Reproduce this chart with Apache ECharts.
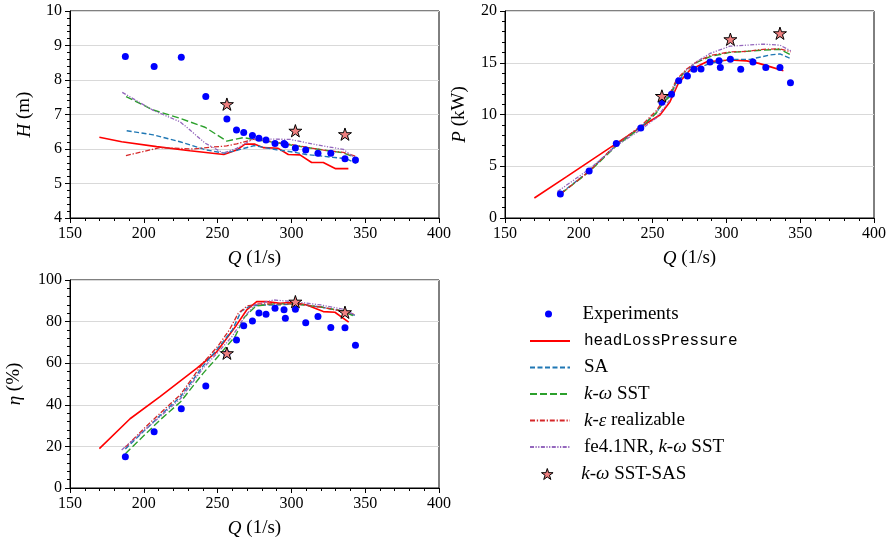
<!DOCTYPE html>
<html>
<head>
<meta charset="utf-8">
<script src="https://cdn.jsdelivr.net/npm/echarts@6/dist/echarts.min.js"></script>
<style>html,body{margin:0;padding:0;background:#fff;}#c{width:892px;height:541px;}</style>
</head>
<body>
<div id="c"></div>
<script>
// ---------- Data ----------
const expQ   = [187.5, 207.0, 225.4, 242.0, 256.3, 262.8, 267.7, 273.6, 278.0, 282.8, 288.9, 295.0, 295.9, 302.7, 309.7, 318.0, 326.7, 336.3, 343.4];
const expH   = [8.68, 8.39, 8.66, 7.52, 6.87, 6.55, 6.48, 6.39, 6.31, 6.26, 6.16, 6.16, 6.12, 6.03, 5.97, 5.88, 5.88, 5.72, 5.68];
const expP   = [2.32, 4.54, 7.21, 8.70, 11.18, 11.95, 13.27, 13.72, 14.36, 14.40, 15.07, 15.20, 14.53, 15.33, 14.36, 15.07, 14.53, 14.53, 13.07];
const expEta = [15.0, 27.1, 38.1, 49.0, 64.5, 71.2, 78.0, 80.3, 84.1, 83.5, 86.4, 85.7, 81.6, 85.9, 79.5, 82.4, 77.2, 77.1, 68.6];

const sasQ   = [256.3, 302.7, 336.3];
const sasH   = [7.30, 6.53, 6.43];
const sasP   = [11.79, 17.27, 17.85];
const sasEta = [64.8, 89.6, 84.5];

// Head H (m)
const hlpH_Q = [169.9, 185, 208.7, 231.3, 254.2, 262.9, 268.6, 275.3, 280.9, 291.1, 297.9, 305.8, 313.7, 321.6, 330, 338.6];
const hlpH   = [6.34, 6.21, 6.07, 5.95, 5.84, 5.97, 6.14, 6.14, 6.04, 6.02, 5.84, 5.83, 5.61, 5.61, 5.43, 5.43];
const saH_Q  = [188.4, 206.4, 224.5, 242.6, 254.6, 262, 275, 290, 301.3, 310, 319.4, 328, 337, 344];
const saH    = [6.53, 6.41, 6.21, 5.97, 5.88, 5.95, 6.10, 5.98, 5.91, 5.84, 5.80, 5.76, 5.72, 5.58];
const sstH_Q = [188, 206.4, 224.5, 241.5, 256.2, 267.4, 274.2, 290, 303.6, 321.6, 335.2, 344.2];
const sstH   = [7.52, 7.13, 6.89, 6.63, 6.23, 6.33, 6.28, 6.18, 6.09, 5.97, 5.89, 5.73];
const keH_Q  = [187.9, 211, 233, 245, 256.2, 263, 274.2, 290, 303.6, 321.6, 335.2, 344];
const keH    = [5.81, 6.04, 6.00, 6.05, 6.09, 6.15, 6.28, 6.20, 6.10, 5.97, 5.90, 5.78];
const feH_Q  = [185.4, 206.4, 224.5, 231.3, 241.5, 253.9, 262.9, 274.2, 299.1, 317.1, 335.2, 344.2];
const feH    = [7.64, 7.12, 6.79, 6.55, 6.17, 5.88, 6.02, 6.29, 6.28, 6.12, 5.99, 5.70];

// Power P (kW)
const hlpP_Q = [169.9, 191.8, 214.4, 232.4, 246, 255, 261.8, 267.4, 275.3, 286.7, 302.4, 313.8, 322, 330, 338.6];
const hlpP   = [1.93, 3.99, 6.15, 7.86, 9.15, 9.95, 11.24, 13.0, 14.3, 15.1, 15.27, 15.18, 14.94, 14.6, 14.23];
const saP_Q  = [187.9, 206.9, 225.7, 242.6, 252.8, 257.2, 261.8, 266.3, 273.1, 277.6, 288.9, 302.4, 316, 329.5, 336.3, 343.1];
const saP    = [2.40, 4.50, 7.10, 8.85, 10.2, 11.3, 11.9, 13.2, 14.0, 14.3, 14.94, 15.33, 15.33, 15.75, 15.85, 15.43];
const sstP_Q = [187.9, 206.9, 225.7, 242.6, 252.8, 257.5, 262, 266.3, 273.1, 280, 289, 302.4, 313.8, 325, 336.3, 343.1];
const sstP   = [2.35, 4.45, 7.00, 8.80, 10.2, 11.2, 11.8, 13.2, 14.3, 15.05, 15.6, 16.0, 16.1, 16.23, 16.3, 15.8];
const keP_Q  = [187.9, 206.9, 225.7, 242.6, 252.8, 257.5, 262, 266.3, 273.1, 280, 289, 302.4, 313.8, 325, 336.3, 343.6];
const keP    = [2.35, 4.50, 7.15, 8.95, 10.4, 11.5, 12.1, 13.4, 14.4, 15.1, 15.7, 16.05, 16.1, 16.3, 16.35, 16.05];
const feP_Q  = [185.5, 206.9, 225.7, 242.6, 252.8, 257.5, 262, 266.3, 273.1, 279.8, 288.9, 302.4, 313.8, 325, 336.3, 344.2];
const feP    = [2.55, 4.70, 7.00, 8.60, 9.70, 10.6, 11.5, 12.9, 14.3, 15.1, 15.9, 16.6, 16.7, 16.8, 16.7, 16.1];

// Efficiency eta (%)
const hlpEta_Q = [169.9, 190.7, 211, 235.8, 249.4, 262.9, 269.7, 276.5, 283.3, 292.3, 301.3, 310.4, 321.6, 329.5, 338.8];
const hlpEta   = [18.9, 33.3, 43.9, 57.5, 65.5, 78.4, 85.6, 89.6, 89.6, 88.8, 89.3, 88.0, 84.8, 84.5, 79.7];
const saEta_Q  = [187.5, 211, 225, 240, 250, 260, 266, 272, 280, 290, 303, 320, 335, 343];
const saEta    = [18.8, 34.8, 44.0, 58.5, 67.0, 76.0, 85.0, 87.5, 88.0, 88.0, 88.5, 87.0, 85.0, 83.0];
const sstEta_Q = [187.5, 211, 225, 240, 250, 262, 268, 276, 288, 303, 320, 335, 343];
const sstEta   = [16.5, 32.7, 41.5, 55.0, 63.0, 73.0, 82.0, 87.5, 88.5, 88.5, 87.0, 85.0, 82.4];
const keEta_Q  = [187.5, 200, 211, 225, 240, 250, 258, 264, 270, 278, 290, 303, 320, 335, 343];
const keEta    = [19.6, 28.5, 35.9, 45.0, 60.0, 68.0, 76.0, 84.0, 87.5, 88.5, 88.5, 88.5, 87.0, 85.0, 83.5];
const feEta_Q  = [185, 211, 225, 240, 250, 260, 268, 275, 288, 303, 320, 335, 343];
const feEta    = [18.3, 34.3, 43.0, 57.5, 65.0, 73.0, 82.0, 88.0, 90.4, 89.5, 88.0, 86.0, 83.2];

const xTicks = [150, 200, 250, 300, 350, 400];
const names = ['Experiments', 'headLossPressure', 'SA', 'k-ω SST', 'k-ε realizable', 'fe4.1NR, k-ω SST', 'k-ω SST-SAS'];

// ---------- Chart ----------
const pairs = (xs, ys) => xs.map((x, i) => [x, ys[i]]);
const SERIF = 'Liberation Serif';
const STAR = 'path://M0,-1L0.2245,-0.309L0.951,-0.309L0.363,0.118L0.588,0.809L0,0.382L-0.588,0.809L-0.363,0.118L-0.951,-0.309L-0.2245,-0.309Z';

const lineDefs = [
  { name: names[1], color: '#ff0000', type: 'solid', width: 1.6 },
  { name: names[2], color: '#1f77b4', type: [5, 2.5], width: 1.4 },
  { name: names[3], color: '#2ca02c', type: [7, 3], width: 1.4 },
  { name: names[4], color: '#d62728', type: [5, 1.8, 1.3, 1.8], width: 1.3 },
  { name: names[5], color: '#9467bd', type: [4, 1.5, 1.2, 1.5, 1.2, 1.5], width: 1.3 }
];

const panels = [
  { lines: [[hlpH_Q, hlpH], [saH_Q, saH], [sstH_Q, sstH], [keH_Q, keH], [feH_Q, feH]], exp: expH, sas: sasH },
  { lines: [[hlpP_Q, hlpP], [saP_Q, saP], [sstP_Q, sstP], [keP_Q, keP], [feP_Q, feP]], exp: expP, sas: sasP },
  { lines: [[hlpEta_Q, hlpEta], [saEta_Q, saEta], [sstEta_Q, sstEta], [keEta_Q, keEta], [feEta_Q, feEta]], exp: expEta, sas: sasEta }
];

const series = [];
panels.forEach((p, gi) => {
  p.lines.forEach((l, li) => {
    const d = lineDefs[li];
    series.push({
      type: 'line', name: d.name, xAxisIndex: gi, yAxisIndex: gi,
      data: pairs(l[0], l[1]), symbol: 'none', z: 2,
      color: d.color,
      lineStyle: { color: d.color, width: d.width, type: d.type }
    });
  });
  series.push({
    type: 'scatter', name: names[0], xAxisIndex: gi, yAxisIndex: gi,
    data: pairs(expQ, p.exp), symbol: 'circle', symbolSize: 7, z: 3,
    itemStyle: { color: '#0000ff', opacity: 1 }
  });
  series.push({
    type: 'scatter', name: names[6], xAxisIndex: gi, yAxisIndex: gi,
    data: pairs(sasQ, p.sas), symbol: STAR, symbolKeepAspect: true, symbolSize: 13, z: 4,
    itemStyle: { color: '#f08080', borderColor: '#000', borderWidth: 1, opacity: 1 }
  });
});

const grids = [
  { left: 70, top: 11, width: 369, height: 207 },
  { left: 505, top: 11, width: 369, height: 207 },
  { left: 70, top: 280, width: 369, height: 208 }
].map(g => Object.assign(g, { show: true, borderColor: '#000', borderWidth: 1, backgroundColor: 'transparent' }));

const richName = {
  i: { fontFamily: SERIF, fontSize: 19, fontStyle: 'italic', color: '#000' }
};

function xAxis(gi) {
  return {
    type: 'value', gridIndex: gi, min: xTicks[0], max: xTicks[xTicks.length - 1], interval: 50,
    name: '{i|Q} (1/s)', nameLocation: 'middle', nameGap: 31,
    nameTextStyle: { fontFamily: SERIF, fontSize: 19, color: '#000', rich: richName },
    axisLine: { show: true, onZero: false, lineStyle: { color: '#000', width: 1 } },
    axisTick: { show: true, inside: false, length: 5, lineStyle: { color: '#000' } },
    minorTick: { show: true, splitNumber: 5, length: 3, lineStyle: { color: '#000' } },
    axisLabel: { fontFamily: SERIF, fontSize: 16, color: '#000', margin: 8 },
    splitLine: { show: false }
  };
}
function yAxis(gi, min, max, interval, name, gap) {
  return {
    type: 'value', gridIndex: gi, min: min, max: max, interval: interval,
    name: name, nameLocation: 'middle', nameGap: gap, nameRotate: 90,
    nameTextStyle: { fontFamily: SERIF, fontSize: 19, color: '#000', rich: richName },
    axisLine: { show: true, onZero: false, lineStyle: { color: '#000', width: 1 } },
    axisTick: { show: true, inside: false, length: 5, lineStyle: { color: '#000' } },
    minorTick: { show: true, splitNumber: 5, length: 3, lineStyle: { color: '#000' } },
    axisLabel: { fontFamily: SERIF, fontSize: 16, color: '#000', margin: 8 },
    splitLine: { show: true, lineStyle: { color: '#d9d9d9', width: 1 } }
  };
}

const legendText = {
  'Experiments': 'Experiments',
  'headLossPressure': '{m|headLossPressure}',
  'SA': 'SA',
  'k-ω SST': '{i|k}-{i|ω} SST',
  'k-ε realizable': '{i|k}-{i|ε} realizable',
  'fe4.1NR, k-ω SST': 'fe4.1NR, {i|k}-{i|ω} SST',
  'k-ω SST-SAS': '{i|k}-{i|ω} SST-SAS'
};
const legendTextStyle = {
  fontFamily: SERIF, fontSize: 19, color: '#000', lineHeight: 20, padding: [0, 0, 0, 9],
  rich: {
    i: { fontFamily: SERIF, fontSize: 19, fontStyle: 'italic', color: '#000', lineHeight: 20 },
    m: { fontFamily: 'Liberation Mono', fontSize: 16, color: '#000', lineHeight: 20 }
  }
};
const legendBase = {
  orient: 'vertical', itemWidth: 40, selectedMode: false,
  formatter: n => legendText[n], textStyle: legendTextStyle, padding: 0
};

const option = {
  animation: false,
  backgroundColor: '#fff',
  grid: grids,
  xAxis: [xAxis(0), xAxis(1), xAxis(2)],
  yAxis: [
    yAxis(0, 4, 10, 1, '{i|H} (m)', 36),
    yAxis(1, 0, 20, 5, '{i|P} (kW)', 36),
    yAxis(2, 0, 100, 20, '{i|η} (%)', 46)
  ],
  legend: [
    Object.assign({}, legendBase, { left: 545, top: 304, data: [names[0]], itemHeight: 7 }),
    Object.assign({}, legendBase, { left: 529, top: 331, data: names.slice(1, 6), itemHeight: 14, itemGap: 6.5, itemStyle: { opacity: 0 } }),
    Object.assign({}, legendBase, { left: 541, top: 464, data: [names[6]], itemHeight: 11,
      itemStyle: { color: '#f08080', borderColor: '#000', borderWidth: 1 } })
  ],
  series: series
};

const chart = echarts.init(document.getElementById('c'), null, { renderer: 'canvas' });
chart.setOption(option);
</script>
</body>
</html>
